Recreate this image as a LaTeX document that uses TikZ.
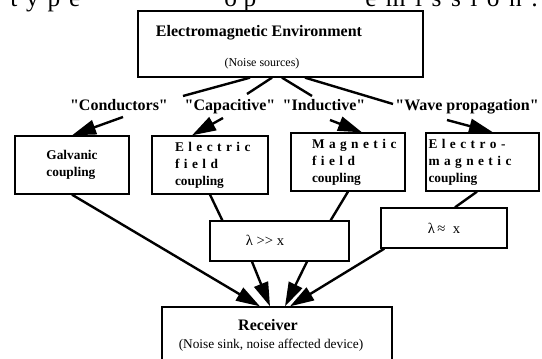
\documentclass[tikz,border=0pt]{standalone}
\usepackage{fontspec}
\setmainfont{Liberation Serif}[Ligatures=TeXOff]
\usetikzlibrary{arrows.meta,calc}
\newcommand{\spread}[2]{\makebox[#1][s]{#2}}
\tikzset{
  box/.style={draw, line width=1pt, inner sep=1pt},
  cpl/.style={box, minimum height=43.5pt, align=left, font=\fontsize{10}{12.75}\selectfont\bfseries},
  kind/.style={anchor=base, inner sep=0pt, font=\fontsize{12}{14}\selectfont\bfseries},
  link/.style={line width=1.8pt},
  arr/.style={link, -{Triangle[length=18pt,width=11pt]}},
  heading/.style={anchor=base west, inner sep=0pt, font=\fontsize{19}{19}\selectfont}
}
\begin{document}
\begin{tikzpicture}[x = .75pt, y = -.75pt]
	\useasboundingbox (0,0) rectangle (542,359);
	\clip (0,0) rectangle (542,359);
	% line of text cut off at the top
	\node[heading] (hd1) at (10,7) {\spread{52.5pt}{t y p e}};
	\node[heading] (hd2) at (224,7) {\spread{24pt}{o p}};
	\node[heading] (hd3) at (365,7) {\spread{129.75pt}{e m i s s i o n :}};
	% source
	\node[box, minimum width = 213.75pt, minimum height = 49.5pt] (env) at (280.5,44) {};
	\node[anchor = base, font = \fontsize{12}{14}\selectfont\bfseries] (envt) at (259,37) {Electromagnetic Environment};
	\node[font = \fontsize{9}{11}\selectfont] (envs) at (262,64) {(Noise sources)};
	% kinds of coupling
	\node[kind] (cond) at (119,111) {"Conductors"};
	\node[kind] (capa) at (230,111) {"Capacitive"};
	\node[kind] (indu) at (324,111) {"Inductive"};
	\node[kind] (wave) at (467,111) {"Wave propagation"};
	\node[cpl, minimum width = 85.5pt] (galv) at (72,165) {Galvanic\\coupling};
	\node[cpl, minimum width = 87pt, text width = 52.5pt] (elec) at (210,165)
		{\spread{52.5pt}{E l e c t r i c}\\\spread{52.5pt}{f i e l d}\\coupling};
	\node[cpl, minimum width = 85.5pt, text width = 54pt] (magn) at (348,162)
		{\spread{54pt}{M a g n e t i c}\\\spread{54pt}{f i e l d}\\coupling};
	\node[cpl, minimum width = 84.75pt, text width = 81pt] (emag) at (482.5,162)
		{\spread{81pt}{E l e c t r o -}\\\spread{81pt}{m a g n e t i c}\\coupling};
	% wavelength boxes
	\node[box, minimum width = 104.25pt, minimum height = 30pt] (lamA) at (279.5,241) {};
	\node[font = \fontsize{11}{13}\selectfont] (lamAt) at (265,240) {λ >> x};
	\node[box, minimum width = 94.5pt, minimum height = 30pt, font = \fontsize{11}{13}\selectfont] (lamB) at (444,228) {λ\,≈\enspace x};
	% receiver
	\node[box, minimum width = 172.5pt, minimum height = 43.5pt] (recv) at (277,336) {};
	\node[font = \fontsize{12}{14}\selectfont\bfseries] (recvt) at (268,325) {Receiver};
	\node[font = \fontsize{10}{12}\selectfont] (recvs) at (271,345) {(Noise sink, noise affected device)};
	% connectors
	\coordinate (c1) at (183,96);
	\coordinate (c2) at (247,94);
	\coordinate (c3) at (312,96);
	\coordinate (c4) at (393,104);
	\coordinate (t1) at (123,117);
	\coordinate (t2) at (223,118);
	\coordinate (t3) at (330,120);
	\coordinate (t4) at (447,120);
	\draw[link] ($(env.south)+(-30.5,0)$) -- (c1);
	\draw[link] ($(env.south)+(-8.5,0)$) -- (c2);
	\draw[link] ($(env.south)+(1.5,0)$) -- (c3);
	\draw[link] ($(env.south)+(24.5,0)$) -- (c4);
	\draw[arr] (t1) -- (galv.north);
	\draw[arr] (t2) -- ($(elec.north)+(-18,0)$);
	\draw[arr] (t3) -- ($(magn.north)+(14,0)$);
	\draw[arr] (t4) -- ($(emag.north)+(10.5,0)$);
	\draw[arr] (galv.south) -- ($(recv.north)+(-17,0)$);
	\draw[link] (elec.south) -- ($(lamA.north west)+(13,0)$);
	\draw[link] (magn.south) -- ($(lamA.north east)+(-19,0)$);
	\draw[link] ($(emag.south)+(-5.5,0)$) -- ($(lamB.north)+(11,0)$);
	\draw[arr] ($(lamA.south)+(-27.5,0)$) -- ($(recv.north)+(-7,0)$);
	\draw[arr] ($(lamA.south)+(27.5,0)$) -- ($(recv.north)+(8,0)$);
	\draw[arr] ($(lamB.south west)+(4,0)$) -- ($(recv.north)+(13,0)$);
\end{tikzpicture}
\end{document}
